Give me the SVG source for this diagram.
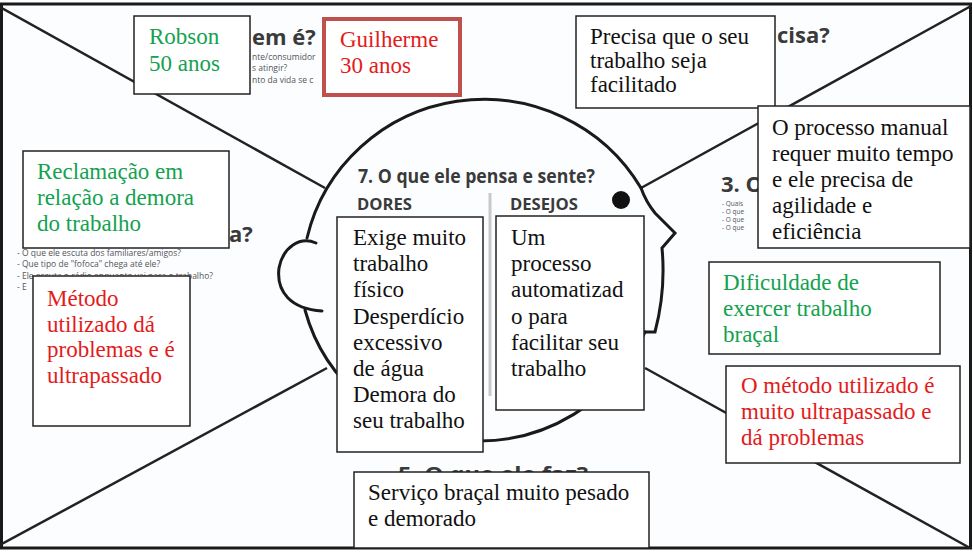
<svg xmlns="http://www.w3.org/2000/svg" width="973" height="553" viewBox="0 0 973 553">
<style>
.frame{fill:#fcfdff;stroke:#1a1a1a;stroke-width:3}
.diag{stroke:#222;stroke-width:2.5;fill:none}
.head{stroke:#1a1a1a;stroke-width:3;fill:none;stroke-linecap:round}
.hd{font-family:"Open Sans","DejaVu Sans",sans-serif;font-weight:700;fill:#3a3a3a}
.sub{font-family:"Open Sans","DejaVu Sans",sans-serif;fill:#555}
.box{fill:#fff;stroke:#222;stroke-width:1.5}
.t{font-family:"Liberation Serif","Times New Roman",serif;font-size:23px;fill:#111}
.g{fill:#13a24f}
.r{fill:#e31b1b}
</style>
<rect class="frame" x="1.5" y="4" width="969" height="544"/>
<g id="connectors">
<line class="diag" x1="0" y1="7" x2="325" y2="188"/>
<line class="diag" x1="971" y1="6" x2="641" y2="188"/>
<line class="diag" x1="0" y1="545" x2="327" y2="368"/>
<line class="diag" x1="645" y1="368" x2="970" y2="548"/>
</g>
<g id="head">
<path class="head" d="M641,188 A182,180 0 0 0 307,238"/>
<path class="head" d="M316,243 C300,236 283,247 279,268 C276,292 291,309 322,311"/>
<path class="head" d="M305,310 A180,177 0 0 0 645,332"/>
<path class="head" d="M645,332 L655,332 Q666,290 662,248 L675,233 L655,213 Q646,202 641,188"/>
<circle cx="621" cy="200" r="9" fill="#111"/>
<line x1="490" y1="193" x2="490" y2="396" stroke="#c8c8c8" stroke-width="3"/>
</g>
<g id="template-text">
<text class="hd" x="252" y="45" font-size="22">em é?</text>
<text class="sub" x="252" y="60" font-size="8.5">nte/consumidor</text>
<text class="sub" x="252" y="71" font-size="8.5">s atingir?</text>
<text class="sub" x="252" y="83" font-size="8.5">nto da vida se c</text>
<text class="hd" x="777" y="43" font-size="22">cisa?</text>
<text class="hd" x="721" y="192" font-size="22">3. O</text>
<text class="sub" x="722" y="206" font-size="6.5">- Quais</text>
<text class="sub" x="722" y="214" font-size="6.5">- O que</text>
<text class="sub" x="722" y="222" font-size="6.5">- O que</text>
<text class="sub" x="722" y="230" font-size="6.5">- O que</text>
<text class="hd" x="229" y="242" font-size="22">a?</text>
<text class="sub" x="17" y="256" font-size="8.5">- O que ele escuta dos familiares/amigos?</text>
<text class="sub" x="17" y="267" font-size="8.5">- Que tipo de "fofoca" chega até ele?</text>
<text class="sub" x="17" y="279" font-size="8.5">- Ele escuta o rádio enquanto vai para o trabalho?</text>
<text class="sub" x="17" y="290" font-size="8.5">- E</text>
<text class="hd" x="358" y="183" font-size="19" textLength="237" lengthAdjust="spacingAndGlyphs">7. O que ele pensa e sente?</text>
<text class="hd" x="357" y="210" font-size="16" textLength="55" lengthAdjust="spacingAndGlyphs">DORES</text>
<text class="hd" x="510" y="210" font-size="16" textLength="68" lengthAdjust="spacingAndGlyphs">DESEJOS</text>
<text class="hd" x="398" y="481" font-size="20" textLength="190" lengthAdjust="spacingAndGlyphs">5. O que ele faz?</text>
</g>
<g id="robson">
<rect class="box" x="134" y="16" width="116" height="78"/>
<text class="t g" x="149" y="44">Robson</text>
<text class="t g" x="149" y="71">50 anos</text>
</g>
<g id="guilherme">
<rect x="324" y="19" width="136" height="76" fill="#fff" stroke="#c0504d" stroke-width="4"/>
<text class="t r" x="340" y="47">Guilherme</text>
<text class="t r" x="340" y="73">30 anos</text>
</g>
<g id="precisa">
<rect class="box" x="576" y="16" width="199" height="92"/>
<text class="t" x="590" y="44">Precisa que o seu</text>
<text class="t" x="590" y="68">trabalho seja</text>
<text class="t" x="590" y="92">facilitado</text>
</g>
<g id="processo-manual">
<rect class="box" x="758" y="106" width="212" height="142"/>
<text class="t" x="772" y="135">O processo manual</text>
<text class="t" x="772" y="161">requer muito tempo</text>
<text class="t" x="772" y="187">e ele precisa de</text>
<text class="t" x="772" y="213">agilidade e</text>
<text class="t" x="772" y="239">eficiência</text>
</g>
<g id="reclamacao">
<rect class="box" x="23" y="151" width="206" height="97"/>
<text class="t g" x="37" y="179">Reclamação em</text>
<text class="t g" x="37" y="205">relação a demora</text>
<text class="t g" x="37" y="231">do trabalho</text>
</g>
<g id="metodo">
<rect class="box" x="33" y="276" width="157" height="150"/>
<text class="t r" x="47" y="306">Método</text>
<text class="t r" x="47" y="332">utilizado dá</text>
<text class="t r" x="47" y="357">problemas e é</text>
<text class="t r" x="47" y="383">ultrapassado</text>
</g>
<g id="dores">
<rect class="box" x="337" y="217" width="146" height="235"/>
<text class="t" x="353" y="245">Exige muito</text>
<text class="t" x="353" y="271">trabalho</text>
<text class="t" x="353" y="297">físico</text>
<text class="t" x="353" y="324">Desperdício</text>
<text class="t" x="353" y="350">excessivo</text>
<text class="t" x="353" y="376">de água</text>
<text class="t" x="353" y="402">Demora do</text>
<text class="t" x="353" y="428">seu trabalho</text>
</g>
<g id="desejos">
<rect class="box" x="496" y="216" width="148" height="194"/>
<text class="t" x="511" y="245">Um</text>
<text class="t" x="511" y="271">processo</text>
<text class="t" x="511" y="297">automatizad</text>
<text class="t" x="511" y="324">o para</text>
<text class="t" x="511" y="350">facilitar seu</text>
<text class="t" x="511" y="376">trabalho</text>
</g>
<g id="servico">
<rect class="box" x="354" y="472" width="295" height="76"/>
<text class="t" x="368" y="500">Serviço braçal muito pesado</text>
<text class="t" x="368" y="526">e demorado</text>
</g>
<g id="dificuldade">
<rect class="box" x="709" y="262" width="231" height="92"/>
<text class="t g" x="723" y="290">Dificuldade de</text>
<text class="t g" x="723" y="316">exercer trabalho</text>
<text class="t g" x="723" y="342">braçal</text>
</g>
<g id="metodo-ultrapassado">
<rect class="box" x="726" y="366" width="234" height="97"/>
<text class="t r" x="741" y="393">O método utilizado é</text>
<text class="t r" x="741" y="419">muito ultrapassado e</text>
<text class="t r" x="741" y="445">dá problemas</text>
</g>
</svg>
